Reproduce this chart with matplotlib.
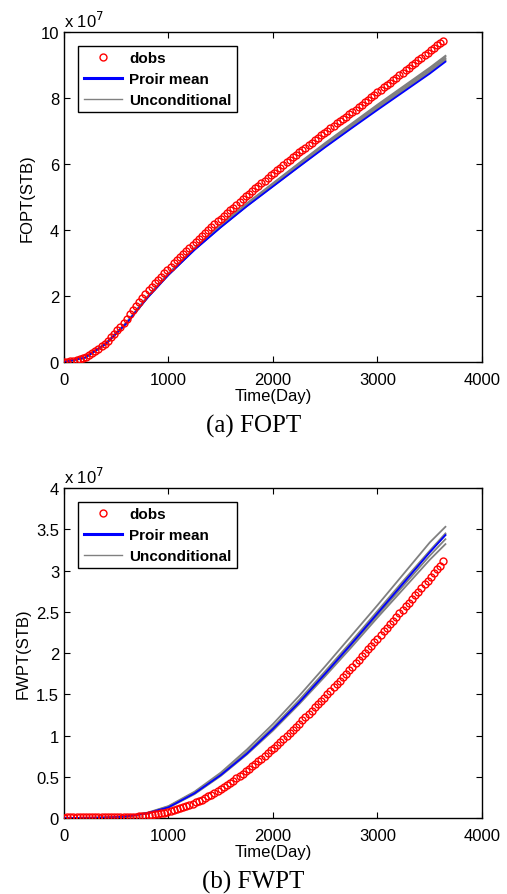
import numpy as np
import matplotlib.pyplot as plt

# report days for the observed data (monthly)
obs_days = np.arange(0, 3660, 30)

# observed cumulative oil production, units of 1e7 STB
fopt_obs = [0.00, 0.01, 0.02, 0.04, 0.06, 0.09, 0.12, 0.16, 0.21, 0.27,
            0.33, 0.40, 0.48, 0.56, 0.65, 0.75, 0.85, 0.96, 1.07, 1.19,
            1.31, 1.44, 1.57, 1.70, 1.82, 1.94, 2.06, 2.17, 2.28, 2.39,
            2.49, 2.59, 2.69, 2.79, 2.89, 2.99, 3.09, 3.18, 3.28, 3.37,
            3.46, 3.55, 3.64, 3.73, 3.82, 3.91, 4.00, 4.08, 4.17, 4.26,
            4.34, 4.43, 4.51, 4.60, 4.68, 4.77, 4.85, 4.93, 5.02, 5.10,
            5.18, 5.26, 5.34, 5.42, 5.50, 5.58, 5.66, 5.74, 5.82, 5.89,
            5.97, 6.05, 6.12, 6.20, 6.27, 6.35, 6.42, 6.50, 6.57, 6.65,
            6.72, 6.79, 6.87, 6.94, 7.01, 7.08, 7.16, 7.23, 7.30, 7.37,
            7.44, 7.51, 7.58, 7.65, 7.72, 7.79, 7.87, 7.94, 8.02, 8.09,
            8.17, 8.25, 8.32, 8.40, 8.47, 8.55, 8.62, 8.70, 8.77, 8.85,
            8.92, 9.00, 9.07, 9.15, 9.22, 9.30, 9.37, 9.45, 9.52, 9.60,
            9.67, 9.74]

# observed cumulative water production, units of 1e7 STB
fwpt_obs = [0.00, 0.01, 0.01, 0.01, 0.01, 0.01, 0.01, 0.01, 0.01, 0.01,
            0.01, 0.01, 0.01, 0.01, 0.01, 0.01, 0.01, 0.01, 0.01, 0.01,
            0.01, 0.012, 0.015, 0.018, 0.021, 0.025, 0.029, 0.034, 0.039, 0.045,
            0.051, 0.058, 0.066, 0.075, 0.084, 0.094, 0.105, 0.117, 0.130, 0.144,
            0.158, 0.173, 0.189, 0.206, 0.224, 0.243, 0.263, 0.284, 0.306, 0.329,
            0.352, 0.376, 0.401, 0.427, 0.453, 0.480, 0.508, 0.536, 0.565, 0.595,
            0.625, 0.656, 0.688, 0.720, 0.753, 0.786, 0.820, 0.854, 0.889, 0.924,
            0.960, 0.996, 1.033, 1.070, 1.107, 1.145, 1.183, 1.222, 1.261, 1.300,
            1.340, 1.380, 1.420, 1.460, 1.501, 1.542, 1.583, 1.624, 1.665, 1.707,
            1.749, 1.791, 1.833, 1.875, 1.918, 1.960, 2.003, 2.046, 2.089, 2.132,
            2.175, 2.218, 2.262, 2.305, 2.349, 2.392, 2.436, 2.480, 2.524, 2.568,
            2.612, 2.656, 2.700, 2.745, 2.789, 2.834, 2.878, 2.923, 2.968, 3.013,
            3.058, 3.110]

# simulation output days
sim_days = [0, 200, 400, 600, 800, 1000, 1250, 1500, 1750, 2000,
            2250, 2500, 2750, 3000, 3250, 3500, 3650]

fopt_mean = [0.00, 0.13, 0.55, 1.18, 1.95, 2.64, 3.40, 4.08, 4.72, 5.32,
             5.92, 6.51, 7.08, 7.64, 8.19, 8.74, 9.10]
fopt_uncond = [
    [0, 0.13, 0.56, 1.20, 1.98, 2.68, 3.45, 4.14, 4.79, 5.40, 6.01, 6.61, 7.19, 7.76, 8.32, 8.88, 9.25],
    [0, 0.13, 0.55, 1.19, 1.97, 2.66, 3.43, 4.11, 4.76, 5.37, 5.97, 6.57, 7.15, 7.72, 8.27, 8.83, 9.20],
    [0, 0.12, 0.54, 1.17, 1.95, 2.64, 3.41, 4.10, 4.74, 5.35, 5.95, 6.55, 7.12, 7.69, 8.24, 8.79, 9.16],
    [0, 0.14, 0.57, 1.21, 1.99, 2.69, 3.46, 4.16, 4.81, 5.42, 6.03, 6.64, 7.22, 7.80, 8.36, 8.92, 9.28],
    [0, 0.12, 0.54, 1.18, 1.96, 2.65, 3.41, 4.09, 4.73, 5.33, 5.93, 6.53, 7.10, 7.67, 8.22, 8.77, 9.13],
]

fwpt_mean = [0.0, 0.0, 0.005, 0.02, 0.06, 0.13, 0.30, 0.52, 0.78, 1.08,
             1.40, 1.75, 2.11, 2.48, 2.85, 3.22, 3.43]
fwpt_uncond = [
    [0, 0, 0.005, 0.02, 0.065, 0.145, 0.32, 0.55, 0.83, 1.14, 1.48, 1.84, 2.21, 2.58, 2.96, 3.34, 3.53],
    [0, 0, 0.005, 0.02, 0.06, 0.14, 0.31, 0.53, 0.80, 1.10, 1.43, 1.78, 2.14, 2.51, 2.88, 3.24, 3.45],
    [0, 0, 0.005, 0.02, 0.06, 0.135, 0.305, 0.525, 0.79, 1.09, 1.41, 1.76, 2.12, 2.49, 2.86, 3.23, 3.43],
    [0, 0, 0.004, 0.02, 0.058, 0.13, 0.30, 0.52, 0.78, 1.08, 1.40, 1.74, 2.10, 2.46, 2.82, 3.18, 3.38],
    [0, 0, 0.004, 0.018, 0.055, 0.125, 0.29, 0.51, 0.77, 1.06, 1.38, 1.72, 2.07, 2.43, 2.78, 3.13, 3.32],
]

plt.rcParams['font.family'] = ['Liberation Sans', 'DejaVu Sans']
plt.rcParams['font.size'] = 11

fig = plt.figure(figsize=(5.07, 8.95), dpi=100)
ax_top = fig.add_axes([0.1262, 0.5944, 0.8245, 0.3687])
ax_bot = fig.add_axes([0.1262, 0.0849, 0.8245, 0.3687])


def draw_panel(ax, obs, mean, uncond, ylabel, ymax, yticks, yticklabels):
    ax.plot(obs_days, obs, 'o', mfc='none', mec='red', ms=5, mew=1.0,
            label='dobs', zorder=4)
    ax.plot(sim_days, mean, color='blue', lw=1.3, label='Proir mean', zorder=3)
    for k, run in enumerate(uncond):
        ax.plot(sim_days, run, color='gray', lw=1.3, zorder=2,
                label='Unconditional' if k == 0 else None)
    ax.set_xlim(0, 4000)
    ax.set_ylim(0, ymax)
    ax.set_xticks([0, 1000, 2000, 3000, 4000])
    ax.set_yticks(yticks)
    ax.set_yticklabels(yticklabels)
    ax.tick_params(direction='in', length=4, width=0.8, top=True, right=True,
                   labelsize=12)
    ax.tick_params(axis='x', pad=7)
    for s in ax.spines.values():
        s.set_linewidth(1.0)
    ax.set_xlabel('Time(Day)', fontsize=12, labelpad=1)
    ax.set_ylabel(ylabel, fontsize=12, labelpad=4)
    ax.text(0.0, 1.005, r'x 10$^{7}$', transform=ax.transAxes, fontsize=12,
            ha='left', va='bottom')
    leg = ax.legend(loc='upper left', bbox_to_anchor=(0.034, 0.958),
                    borderaxespad=0, fancybox=False, framealpha=1,
                    edgecolor='black', handlelength=2.5, handletextpad=0.5,
                    borderpad=0.35, labelspacing=0.45,
                    prop={'weight': 'bold', 'size': 11})
    leg.get_frame().set_linewidth(1.0)
    leg.get_lines()[1].set_linewidth(2.2)
    leg.get_lines()[2].set_linewidth(1.0)


draw_panel(ax_top, fopt_obs, fopt_mean, fopt_uncond, 'FOPT(STB)', 10,
           [0, 2, 4, 6, 8, 10], ['0', '2', '4', '6', '8', '10'])
draw_panel(ax_bot, fwpt_obs, fwpt_mean, fwpt_uncond, 'FWPT(STB)', 4,
           [0, 0.5, 1, 1.5, 2, 2.5, 3, 3.5, 4],
           ['0', '0.5', '1', '1.5', '2', '2.5', '3', '3.5', '4'])

fig.text(0.5, 0.523, '(a) FOPT', ha='center', va='center', fontsize=18,
         family='Liberation Serif')
fig.text(0.5, 0.0145, '(b) FWPT', ha='center', va='center', fontsize=18,
         family='Liberation Serif')

fig.savefig('out.png', dpi=100)
